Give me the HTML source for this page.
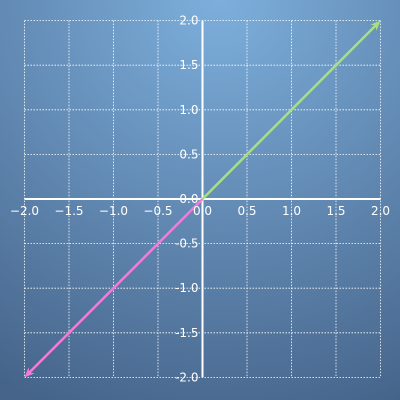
<!DOCTYPE html>
<html><head><style>
body{margin:0;width:400px;height:400px;overflow:hidden}
svg{display:block}
text{font-family:"DejaVu Sans","Liberation Sans",sans-serif;font-size:12px;fill:#fff}
</style></head><body>
<svg id="c" width="400" height="400">
<defs>
<radialGradient id="bg" cx="0.55" cy="0" r="1.1">
<stop offset="0" stop-color="#7dafdc"/>
<stop offset="1" stop-color="#46648a"/>
</radialGradient>
</defs>
<rect width="400" height="400" fill="url(#bg)"/>
<g id="grid"></g><g id="axes"></g><g id="vecs"></g><g id="labels"></g>
</svg>
<script>
const ticks=[-2,-1.5,-1,-0.5,0,0.5,1,1.5,2];
const tickLabels=["\u22122.0","\u22121.5","\u22121.0","\u22120.5","0.0","0.5","1.0","1.5","2.0"];
const yTickLabels=["-2.0","-1.5","-1.0","-0.5","0.0","0.5","1.0","1.5","2.0"];
const vecStartX=[0,0];
const vecStartY=[0,0];
const vecEndX=[2,-2];
const vecEndY=[2,-2];
const vecColors=["#a8e07e","#f47bd9"];
const NS="http://www.w3.org/2000/svg";
const sx=v=>202.5+v*89, sy=v=>199-v*89.2;
function mk(tag,attrs,parent){const e=document.createElementNS(NS,tag);for(const k in attrs)e.setAttribute(k,attrs[k]);document.getElementById(parent).appendChild(e);return e;}
ticks.forEach((t,i)=>{
  let l=mk('line',{x1:sx(t),x2:sx(t),y1:sy(2),y2:sy(-2),stroke:'#fff','stroke-width':0.8,'stroke-dasharray':'1.5,1.5'},'grid');
  
  
  l=mk('line',{y1:sy(t),y2:sy(t),x1:sx(-2),x2:sx(2),stroke:'#fff','stroke-width':0.8,'stroke-dasharray':'1.5,1.5'},'grid');
  
  
  let tx=mk('text',{x:sx(t),y:sy(0)+16,'text-anchor':'middle'},'labels');tx.textContent=tickLabels[i];
  
  
  let ty=mk('text',{x:sx(0)-4,y:sy(t)+4,'text-anchor':'end'},'labels');ty.textContent=yTickLabels[i];
  
  
});
let ax=mk('line',{x1:sx(-2),x2:sx(2),y1:sy(0),y2:sy(0),stroke:'#fff','stroke-width':2},'axes');


let ay=mk('line',{x1:sx(0),x2:sx(0),y1:sy(2),y2:sy(-2),stroke:'#fff','stroke-width':2},'axes');


vecEndX.forEach((ex,i)=>{
  const x1=sx(vecStartX[i]),y1=sy(vecStartY[i]),x2=sx(ex),y2=sy(vecEndY[i]);
  const a=Math.atan2(y2-y1,x2-x1),L=11,W=0.4;
  const ln=mk('line',{x1:x1,y1:y1,x2:x2-Math.cos(a)*6,y2:y2-Math.sin(a)*6,stroke:vecColors[i],'stroke-width':2.5},'vecs');
  
  
  const p=`${x2},${y2} ${x2-L*Math.cos(a-W)},${y2-L*Math.sin(a-W)} ${x2-7*Math.cos(a)},${y2-7*Math.sin(a)} ${x2-L*Math.cos(a+W)},${y2-L*Math.sin(a+W)}`;
  const h=mk('polygon',{points:p,fill:vecColors[i]},'vecs');
  
  
});
</script>
</body></html>
